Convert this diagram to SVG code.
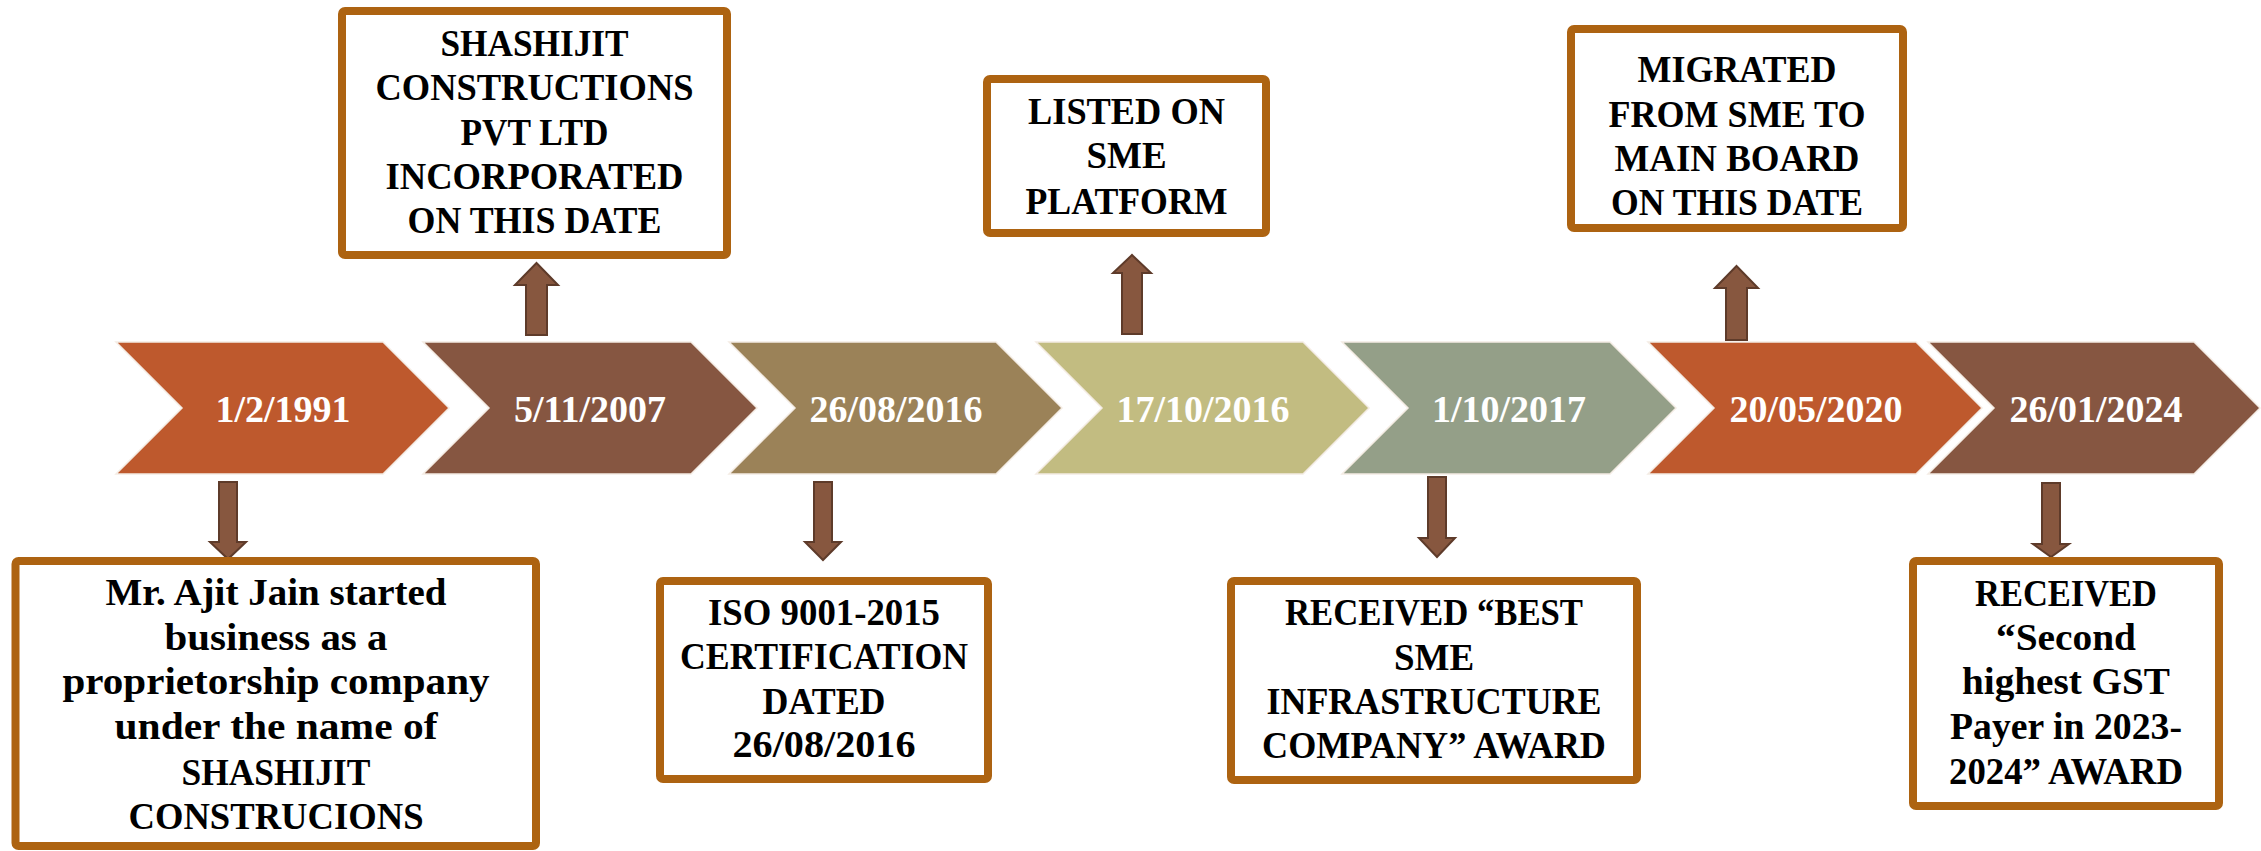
<svg xmlns="http://www.w3.org/2000/svg" width="2261" height="851" viewBox="0 0 2261 851">
<style>
.bg{fill:#ffffff}
.chev{stroke:#f4ece4;stroke-width:1.5}
.date{font-family:"Liberation Serif","Times New Roman",serif;font-weight:bold;font-size:38px;fill:#ffffff;text-anchor:middle}
.box{fill:#ffffff;stroke:#AD6311;stroke-width:8}
.t{font-family:"Liberation Serif","Times New Roman",serif;font-weight:bold;font-size:37px;fill:#000000;text-anchor:middle}
.arr{fill:#87573F;stroke:#5E3B2A;stroke-width:2;stroke-linejoin:miter}
</style>
<rect class="bg" x="0" y="0" width="2261" height="851"/>

<g id="timeline">
  <g id="chevron1">
    <polygon class="chev" fill="#BE592D" points="116,342 383,342 449,408 383,474 116,474 182,408"/>
    <text class="date" x="283" y="422">1/2/1991</text>
  </g>
  <g id="chevron2">
    <polygon class="chev" fill="#865641" points="423,342 691,342 757,408 691,474 423,474 489,408"/>
    <text class="date" x="590" y="422">5/11/2007</text>
  </g>
  <g id="chevron3">
    <polygon class="chev" fill="#9B8258" points="729,342 996,342 1062,408 996,474 729,474 795,408"/>
    <text class="date" x="896" y="422">26/08/2016</text>
  </g>
  <g id="chevron4">
    <polygon class="chev" fill="#C2BC81" points="1036,342 1303,342 1369,408 1303,474 1036,474 1102,408"/>
    <text class="date" x="1203" y="422">17/10/2016</text>
  </g>
  <g id="chevron5">
    <polygon class="chev" fill="#949F88" points="1342,342 1610,342 1676,408 1610,474 1342,474 1408,408"/>
    <text class="date" x="1509" y="422">1/10/2017</text>
  </g>
  <g id="chevron6">
    <polygon class="chev" fill="#BE592D" points="1648,342 1916,342 1982,408 1916,474 1648,474 1714,408"/>
    <text class="date" x="1816" y="422">20/05/2020</text>
  </g>
  <g id="chevron7">
    <polygon class="chev" fill="#865641" points="1928,342 2194,342 2260,408 2194,474 1928,474 1994,408"/>
    <text class="date" x="2096" y="422">26/01/2024</text>
  </g>
</g>

<g id="connectors">
  <path class="arr" d="M219,482 H237 V542 H246 L228,559 L210,542 H219 Z"/>
  <path class="arr" d="M526,335 V285 H515 L536.5,263 L558,285 H547 V335 Z"/>
  <path class="arr" d="M814,482 H832 V542 H841 L823,560 L805,542 H814 Z"/>
  <path class="arr" d="M1122,334 V273 H1113 L1132,255 L1151,273 H1142 V334 Z"/>
  <path class="arr" d="M1428,477 H1446 V538 H1455 L1437,557 L1419,538 H1428 Z"/>
  <path class="arr" d="M1726,340 V288 H1715 L1736.5,266 L1758,288 H1747 V340 Z"/>
  <path class="arr" d="M2042,483 H2060 V544 H2069 L2051,557 L2033,544 H2042 Z"/>
</g>

<g id="box1">
  <rect class="box" x="15.5" y="561" width="520.5" height="285" rx="3"/>
  <text class="t" x="276" y="605" textLength="341" lengthAdjust="spacingAndGlyphs">Mr. Ajit Jain started</text>
  <text class="t" x="276" y="650" textLength="223" lengthAdjust="spacingAndGlyphs">business as a</text>
  <text class="t" x="276" y="694" textLength="427" lengthAdjust="spacingAndGlyphs">proprietorship company</text>
  <text class="t" x="276" y="739" textLength="323" lengthAdjust="spacingAndGlyphs">under the name of</text>
  <text class="t" x="276" y="785" textLength="189" lengthAdjust="spacingAndGlyphs">SHASHIJIT</text>
  <text class="t" x="276" y="829" textLength="295" lengthAdjust="spacingAndGlyphs">CONSTRUCIONS</text>
</g>

<g id="box2">
  <rect class="box" x="342" y="11" width="385" height="244" rx="3"/>
  <text class="t" x="534.5" y="56" textLength="188" lengthAdjust="spacingAndGlyphs">SHASHIJIT</text>
  <text class="t" x="534.5" y="100" textLength="318" lengthAdjust="spacingAndGlyphs">CONSTRUCTIONS</text>
  <text class="t" x="534.5" y="145" textLength="148" lengthAdjust="spacingAndGlyphs">PVT LTD</text>
  <text class="t" x="534.5" y="189" textLength="298" lengthAdjust="spacingAndGlyphs">INCORPORATED</text>
  <text class="t" x="534.5" y="233" textLength="254" lengthAdjust="spacingAndGlyphs">ON THIS DATE</text>
</g>

<g id="box3">
  <rect class="box" x="987" y="79" width="279" height="154" rx="3"/>
  <text class="t" x="1126.5" y="124" textLength="197" lengthAdjust="spacingAndGlyphs">LISTED ON</text>
  <text class="t" x="1126.5" y="168">SME</text>
  <text class="t" x="1126.5" y="214" textLength="202" lengthAdjust="spacingAndGlyphs">PLATFORM</text>
</g>

<g id="box4">
  <rect class="box" x="660" y="581" width="328" height="198" rx="3"/>
  <text class="t" x="824" y="625" textLength="232" lengthAdjust="spacingAndGlyphs">ISO 9001-2015</text>
  <text class="t" x="824" y="669" textLength="288" lengthAdjust="spacingAndGlyphs">CERTIFICATION</text>
  <text class="t" x="824" y="714" textLength="123" lengthAdjust="spacingAndGlyphs">DATED</text>
  <text class="t" x="824" y="757" textLength="183" lengthAdjust="spacingAndGlyphs">26/08/2016</text>
</g>

<g id="box5">
  <rect class="box" x="1571" y="29" width="332" height="199" rx="3"/>
  <text class="t" x="1737" y="82" textLength="199" lengthAdjust="spacingAndGlyphs">MIGRATED</text>
  <text class="t" x="1737" y="127" textLength="257" lengthAdjust="spacingAndGlyphs">FROM SME TO</text>
  <text class="t" x="1737" y="171" textLength="245" lengthAdjust="spacingAndGlyphs">MAIN BOARD</text>
  <text class="t" x="1737" y="215" textLength="252" lengthAdjust="spacingAndGlyphs">ON THIS DATE</text>
</g>

<g id="box6">
  <rect class="box" x="1231" y="581" width="406" height="199" rx="3"/>
  <text class="t" x="1434" y="625" textLength="298" lengthAdjust="spacingAndGlyphs">RECEIVED “BEST</text>
  <text class="t" x="1434" y="670">SME</text>
  <text class="t" x="1434" y="714" textLength="335" lengthAdjust="spacingAndGlyphs">INFRASTRUCTURE</text>
  <text class="t" x="1434" y="758" textLength="344" lengthAdjust="spacingAndGlyphs">COMPANY” AWARD</text>
</g>

<g id="box7">
  <rect class="box" x="1913" y="561" width="306" height="245" rx="3"/>
  <text class="t" x="2066" y="606" textLength="182" lengthAdjust="spacingAndGlyphs">RECEIVED</text>
  <text class="t" x="2066" y="650" textLength="140" lengthAdjust="spacingAndGlyphs">“Second</text>
  <text class="t" x="2066" y="694" textLength="208" lengthAdjust="spacingAndGlyphs">highest GST</text>
  <text class="t" x="2066" y="739" textLength="232" lengthAdjust="spacingAndGlyphs">Payer in 2023-</text>
  <text class="t" x="2066" y="784" textLength="234" lengthAdjust="spacingAndGlyphs">2024” AWARD</text>
</g>
</svg>
